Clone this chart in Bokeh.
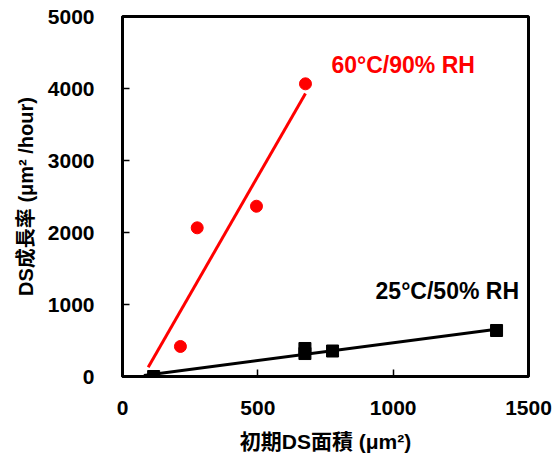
from bokeh.plotting import figure
from bokeh.models import Range1d, FixedTicker, Label, Title
from bokeh.embed import file_html
from bokeh.resources import INLINE

# 60°C/90% RH measurements
hot_x = [214, 276, 495, 676]
hot_y = [417, 2065, 2365, 4065]
# linear trend drawn through the 60°C/90% RH points
hot_fit_x = [95, 676]
hot_fit_y = [130, 3930]

# 25°C/50% RH measurements
room_x = [115, 674, 674, 776, 1382]
room_y = [0, 389, 319, 354, 639]
# linear trend drawn through the 25°C/50% RH points
room_fit_x = [79, 1382]
room_fit_y = [15, 655]

x_ticks = [0, 500, 1000, 1500]
y_ticks = [0, 1000, 2000, 3000, 4000, 5000]

LATIN = "Liberation Sans"
CJK = "Liberation Sans, Noto Sans CJK JP"

p = figure(width=555, height=461, output_backend="svg", toolbar_location=None,
           x_range=Range1d(0, 1500), y_range=Range1d(0, 5000),
           min_border_left=122, min_border_right=27,
           min_border_top=16, min_border_bottom=85)

p.background_fill_color = "white"
p.border_fill_color = "white"
p.grid.visible = False
p.outline_line_color = "black"
p.outline_line_width = 3

for ax in (p.xaxis[0], p.yaxis[0]):
    ax.axis_line_width = 3
    ax.axis_line_color = "black"
    ax.major_tick_in = 7
    ax.major_tick_out = 0
    ax.major_tick_line_width = 1.5
    ax.minor_tick_line_color = None
    ax.major_label_text_font = LATIN
    ax.major_label_text_font_style = "bold"
    ax.major_label_text_font_size = "21px"
    ax.major_label_text_color = "black"

p.xaxis.ticker = FixedTicker(ticks=x_ticks)
p.yaxis.ticker = FixedTicker(ticks=y_ticks)
p.xaxis.major_label_standoff = 24
p.yaxis.major_label_standoff = 28

# x-axis title
p.xaxis.axis_label = "初期DS面積 (μm²)"
p.xaxis.axis_label_text_font = CJK
p.xaxis.axis_label_text_font_style = "bold"
p.xaxis.axis_label_text_font_size = "21px"
p.xaxis.axis_label_text_color = "black"
p.xaxis.axis_label_standoff = 12

# y-axis title, shifted a little above the middle of the axis
p.add_layout(Title(text="DS成長率 (μm² /hour)", align="center", offset=31,
                   text_font=CJK, text_font_style="bold", text_font_size="20px",
                   text_color="black", standoff=16), "left")

# trend lines
p.line(hot_fit_x, hot_fit_y, line_color="#ff0000", line_width=3)
p.line(room_fit_x, room_fit_y, line_color="black", line_width=3)

# data points
p.scatter(hot_x, hot_y, marker="circle", size=12,
          fill_color="#ff0000", line_color="#ff0000")
p.scatter(room_x, room_y, marker="square", size=12,
          fill_color="black", line_color="black")

p.add_layout(Label(x=772, y=4333, text="60°C/90% RH", text_color="#ff0000",
                   text_font=LATIN, text_font_style="bold",
                   text_font_size="23px", text_baseline="middle"))
p.add_layout(Label(x=935, y=1194, text="25°C/50% RH", text_color="black",
                   text_font=LATIN, text_font_style="bold",
                   text_font_size="23px", text_baseline="middle"))

open("out.html", "w").write(file_html(p, INLINE))
